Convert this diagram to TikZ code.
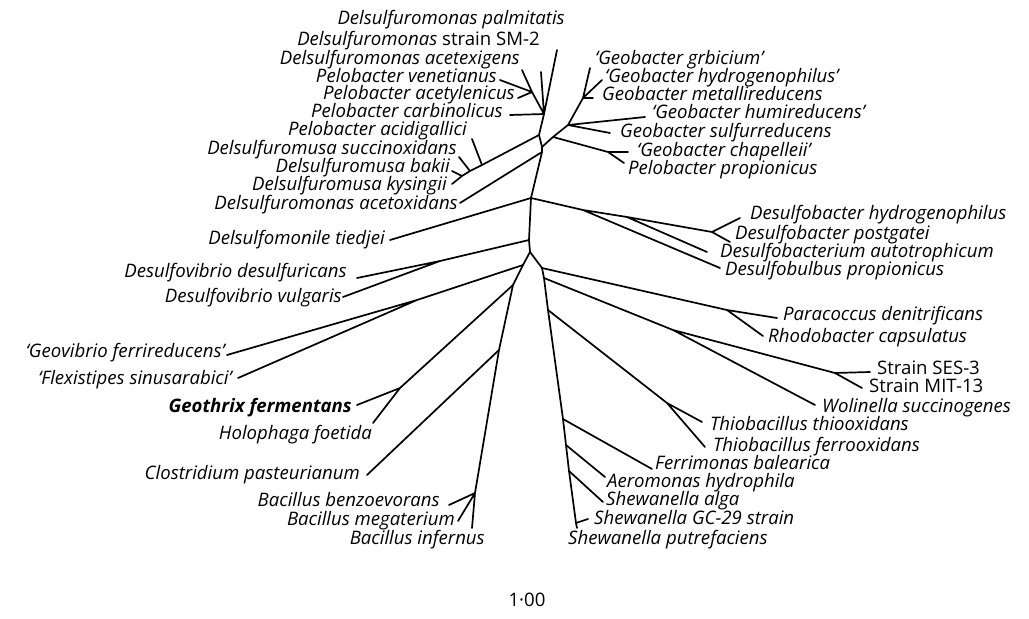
\documentclass[tikz,border=0pt]{standalone}
\usepackage{fontspec}
\setmainfont{Open Sans}
\tikzset{
  branch/.style = {draw, line width=1.7pt, line cap=round, line join=round},
  taxon/.style  = {font=\fontsize{18.6}{21}\selectfont\itshape, inner sep=0pt},
  taxl/.style   = {taxon, anchor=mid east},
  taxr/.style   = {taxon, anchor=mid west},
  scalelbl/.style = {font=\fontsize{18.6}{21}\selectfont, inner sep=0pt},
}

\begin{document}
\begin{tikzpicture}[x=1pt, y=-1pt]
  \useasboundingbox (0,0) rectangle (1029,619);

  % ---------- inner nodes of the tree ----------------------------------
  \coordinate (c)   at (544,114);
  \coordinate (a)   at (532,92);
  \coordinate (t1)  at (539,135);
  \coordinate (p1)  at (482,165);
  \coordinate (p2)  at (470,171);
  \coordinate (p3)  at (462,176);
  \coordinate (t2)  at (542,147);
  \coordinate (t2b) at (542,152);
  \coordinate (g1)  at (553,137);
  \coordinate (g2)  at (568,125);
  \coordinate (g3)  at (583,98);
  \coordinate (ch)  at (608,152);
  \coordinate (t3)  at (531,198);
  \coordinate (d1)  at (583,210);
  \coordinate (d2)  at (627,217);
  \coordinate (db)  at (712,232);
  \coordinate (t4)  at (529,240);
  \coordinate (dv)  at (440,261);
  \coordinate (t5)  at (530,252);
  \coordinate (l1)  at (523,265);
  \coordinate (l2)  at (513,285);
  \coordinate (l3)  at (499,350);
  \coordinate (gf)  at (417,300);
  \coordinate (gh)  at (400,388);
  \coordinate (bn)  at (475,493);
  \coordinate (r1)  at (542,268);
  \coordinate (r2)  at (544,278);
  \coordinate (r3)  at (548,310);
  \coordinate (r4)  at (563,419);
  \coordinate (r5)  at (566,445);
  \coordinate (r6)  at (569,471);
  \coordinate (r7)  at (576,523);
  \coordinate (pr)  at (727,310);
  \coordinate (w1)  at (673,330);
  \coordinate (ses) at (835,373);
  \coordinate (th)  at (667,403);

  % ---------- branch tips ----------------------------------------------
  \coordinate (xpalm) at (557,50);
  \coordinate (xsm)   at (541,72);
  \coordinate (xacex) at (522,70);
  \coordinate (xvene) at (500,80);
  \coordinate (xacyl) at (518,98);
  \coordinate (xcarb) at (510,115);
  \coordinate (xacid) at (472,139);
  \coordinate (xsucc) at (459,157);
  \coordinate (xbaki) at (452,171);
  \coordinate (xkysi) at (452,184);
  \coordinate (xacet) at (460,203);
  \coordinate (xtied) at (390,240);
  \coordinate (xdesu) at (357,278);
  \coordinate (xvulg) at (343,297);
  \coordinate (xgeov) at (227,355);
  \coordinate (xflex) at (238,378);
  \coordinate (xgtrx) at (357,405);
  \coordinate (xholo) at (373,423);
  \coordinate (xclos) at (367,475);
  \coordinate (xbenz) at (449,505);
  \coordinate (xmega) at (458,521);
  \coordinate (xinfe) at (472,528);
  \coordinate (xgrbi) at (590,68);
  \coordinate (xghyd) at (602,80);
  \coordinate (xmeta) at (593,98);
  \coordinate (xhumi) at (645,117);
  \coordinate (xsulf) at (610,133);
  \coordinate (xchap) at (628,152);
  \coordinate (xpprp) at (624,163);
  \coordinate (xdhyd) at (740,218);
  \coordinate (xpost) at (730,242);
  \coordinate (xauto) at (707,252);
  \coordinate (xbulb) at (720,268);
  \coordinate (xpara) at (777,318);
  \coordinate (xrhod) at (763,336);
  \coordinate (xses)  at (870,372);
  \coordinate (xmit)  at (862,388);
  \coordinate (xwoli) at (815,405);
  \coordinate (xtoxi) at (702,422);
  \coordinate (xfoxi) at (705,447);
  \coordinate (xferr) at (652,469);
  \coordinate (xaero) at (605,477);
  \coordinate (xalga) at (603,502);
  \coordinate (xgc)   at (588,519);
  \coordinate (xputr) at (577,528);

  % ---------- branches -------------------------------------------------
  \draw[branch] (xpalm) -- (c)  (xsm) -- (c)  (xcarb) -- (c)
                (xacex) -- (a) -- (c)  (xvene) -- (a)  (xacyl) -- (a);
  \draw[branch] (c) -- (t1) -- (t2) -- (t2b) -- (t3) -- (t4) -- (t5);
  \draw[branch] (t1) -- (p1) -- (p2) -- (p3)  (xacid) -- (p1)
                (xsucc) -- (p2)  (xbaki) -- (p3)  (xkysi) -- (p3);
  \draw[branch] (t2) -- (g1) -- (g2) -- (g3)  (g1) -- (ch)
                (ch) -- (xchap)  (ch) -- (xpprp)
                (g2) -- (xhumi)  (g2) -- (xsulf)
                (g3) -- (xgrbi)  (g3) -- (xghyd)  (g3) -- (xmeta);
  \draw[branch] (t2b) -- (xacet)  (t3) -- (xtied);
  \draw[branch] (t3) -- (d1) -- (d2) -- (db)  (d1) -- (xbulb)
                (d2) -- (xauto)  (db) -- (xdhyd)  (db) -- (xpost);
  \draw[branch] (t4) -- (dv)  (dv) -- (xdesu)  (dv) -- (xvulg);
  % left limb
  \draw[branch] (t5) -- (l1) -- (l2) -- (l3) -- (bn);
  \draw[branch] (l1) -- (gf)  (gf) -- (xgeov)  (gf) -- (xflex)
                (l2) -- (gh)  (gh) -- (xgtrx)  (gh) -- (xholo)
                (l3) -- (xclos)
                (bn) -- (xbenz)  (bn) -- (xmega)  (bn) -- (xinfe);
  % right limb
  \draw[branch] (t5) -- (r1) -- (r2) -- (r3) -- (r4) -- (r5) -- (r6)
                -- (r7) -- (xputr);
  \draw[branch] (r1) -- (pr)  (pr) -- (xpara)  (pr) -- (xrhod)
                (r2) -- (w1) -- (ses)  (ses) -- (xses)  (ses) -- (xmit)
                (w1) -- (xwoli)
                (r3) -- (th)  (th) -- (xtoxi)  (th) -- (xfoxi)
                (r4) -- (xferr)  (r5) -- (xaero)  (r6) -- (xalga)
                (r7) -- (xgc);

  % ---------- taxon labels, left ---------------------------------------
  \node[taxl] (lpalm) at (565,22)  {Delsulfuromonas palmitatis};
  \node[taxl] (lsm)   at (540,43)  {Delsulfuromonas \upshape strain SM-2};
  \node[taxl] (lacex) at (520,62)  {Delsulfuromonas acetexigens};
  \node[taxl] (lvene) at (497,80)  {Pelobacter venetianus};
  \node[taxl] (lacyl) at (515,97)  {Pelobacter acetylenicus};
  \node[taxl] (lcarb) at (503,115) {Pelobacter carbinolicus};
  \node[taxl] (lacid) at (467,133) {Pelobacter acidigallici};
  \node[taxl] (lsucc) at (457,152) {Delsulfuromusa succinoxidans};
  \node[taxl] (lbaki) at (450,170) {Delsulfuromusa bakii};
  \node[taxl] (lkysi) at (447,188) {Delsulfuromusa kysingii};
  \node[taxl] (lacet) at (458,207) {Delsulfuromonas acetoxidans};
  \node[taxl] (ltied) at (385,242) {Delsulfomonile tiedjei};
  \node[taxl] (ldesu) at (347,275) {Desulfovibrio desulfuricans};
  \node[taxl] (lvulg) at (342,300) {Desulfovibrio vulgaris};
  \node[taxl] (lgeov) at (225,355) {‘Geovibrio ferrireducens’};
  \node[taxl] (lflex) at (232,382) {‘Flexistipes sinusarabici’};
  \node[taxl, font=\fontsize{18.6}{21}\selectfont\itshape\bfseries]
              (lgtrx) at (352,410) {Geothrix fermentans};
  \node[taxl] (lholo) at (372,437) {Holophaga foetida};
  \node[taxl] (lclos) at (360,477) {Clostridium pasteurianum};
  \node[taxl] (lbenz) at (440,504) {Bacillus benzoevorans};
  \node[taxl] (lmega) at (455,523) {Bacillus megaterium};
  \node[taxl] (linfe) at (485,542) {Bacillus infernus};

  % ---------- taxon labels, right --------------------------------------
  \node[taxr] (lgrbi) at (595,62)  {‘Geobacter grbicium’};
  \node[taxr] (lghyd) at (605,80)  {‘Geobacter hydrogenophilus’};
  \node[taxr] (lmeta) at (602,98)  {Geobacter metallireducens};
  \node[taxr] (lhumi) at (652,116) {‘Geobacter humireducens’};
  \node[taxr] (lsulf) at (620,135) {Geobacter sulfurreducens};
  \node[taxr] (lchap) at (637,154) {‘Geobacter chapelleii’};
  \node[taxr] (lpprp) at (628,172) {Pelobacter propionicus};
  \node[taxr] (ldhyd) at (750,217) {Desulfobacter hydrogenophilus};
  \node[taxr] (lpost) at (735,237) {Desulfobacter postgatei};
  \node[taxr] (lauto) at (720,255) {Desulfobacterium autotrophicum};
  \node[taxr] (lbulb) at (725,273) {Desulfobulbus propionicus};
  \node[taxr] (lpara) at (783,318) {Paracoccus denitrificans};
  \node[taxr] (lrhod) at (768,340) {Rhodobacter capsulatus};
  \node[taxr, font=\fontsize{18.6}{21}\selectfont]
              (lses)  at (877,372) {Strain SES-3};
  \node[taxr, font=\fontsize{18.6}{21}\selectfont]
              (lmit)  at (869,390) {Strain MIT-13};
  \node[taxr] (lwoli) at (822,410) {Wolinella succinogenes};
  \node[taxr] (ltoxi) at (710,428) {Thiobacillus thiooxidans};
  \node[taxr] (lfoxi) at (713,449) {Thiobacillus ferrooxidans};
  \node[taxr] (lferr) at (655,467) {Ferrimonas balearica};
  \node[taxr] (laero) at (607,485) {Aeromonas hydrophila};
  \node[taxr] (lalga) at (606,503) {Shewanella alga};
  \node[taxr] (lgc)   at (594,522) {Shewanella GC-29 strain};
  \node[taxr] (lputr) at (568,542) {Shewanella putrefaciens};

  % ---------- scale ----------------------------------------------------
  \node[scalelbl] (scale) at (527,600) {1·00};

\end{tikzpicture}
\end{document}
